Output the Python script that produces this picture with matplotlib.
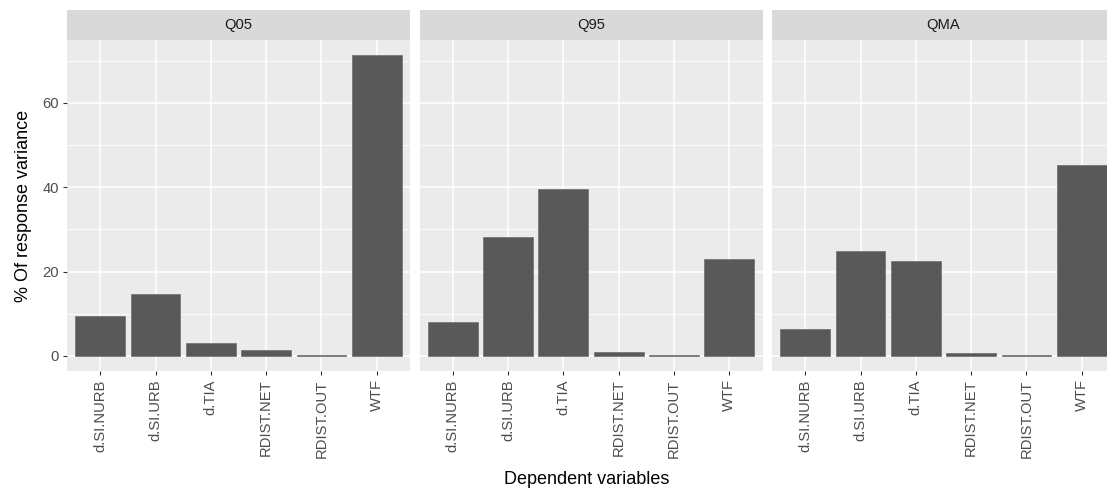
import matplotlib

matplotlib.use("Agg")
import matplotlib.pyplot as plt  # noqa: E402
import numpy as np  # noqa: E402

PANELS = ["Q05", "Q95", "QMA"]
VARIABLES = ["d.SI.NURB", "d.SI.URB", "d.TIA", "RDIST.NET", "RDIST.OUT", "WTF"]

Q05 = [9.5, 14.6, 3.1, 1.35, 0.15, 71.3]
Q95 = [8.0, 28.1, 39.6, 0.95, 0.2, 23.0]
QMA = [6.5, 24.9, 22.4, 0.7, 0.15, 45.2]
VALUES = [Q05, Q95, QMA]

Y_TICKS = [0, 20, 40, 60]

BG = "#EBEBEB"
STRIP = "#D9D9D9"
BAR = "#595959"
TXT = "#4D4D4D"

plt.rcParams["font.family"] = ["Liberation Sans", "DejaVu Sans"]

fig = plt.figure(figsize=(11.07, 4.91), dpi=100)
W, H = 1107, 491
left = 67
gap = 9.5
pw = 343  # last panel runs off the right edge, as in the source image
top_strip, strip_h = 10, 30
ax_top, ax_bot = 40, 371

ymax = max(max(v) for v in VALUES)
ylim = (-0.05 * ymax, ymax * 1.05)
x = np.arange(1, len(VARIABLES) + 1)

for i, (name, vals) in enumerate(zip(PANELS, VALUES)):
    x0 = left + i * (pw + gap)
    ax = fig.add_axes([x0 / W, 1 - ax_bot / H, pw / W, (ax_bot - ax_top) / H])
    ax.set_facecolor(BG)
    ax.bar(x, vals, width=0.9, color=BAR, edgecolor="#6E6E6E", linewidth=0.5, zorder=3)
    ax.set_xlim(0.4, len(VARIABLES) + 0.6)
    ax.set_ylim(*ylim)
    ax.set_xticks(x)
    ax.set_xticklabels(VARIABLES, rotation=90, fontsize=10.6, color=TXT)
    ax.set_yticks(Y_TICKS)
    ax.set_yticks([10, 30, 50, 70], minor=True)
    ax.grid(which="major", color="white", lw=1.1, zorder=0)
    ax.grid(which="minor", axis="y", color="white", lw=0.55, zorder=0)
    ax.tick_params(which="minor", length=0)
    ax.tick_params(which="major", length=3, color="#333333", width=0.8, pad=3)
    for s in ax.spines.values():
        s.set_visible(False)
    if i == 0:
        ax.set_yticklabels([str(t) for t in Y_TICKS], fontsize=10.6, color=TXT)
        ax.set_ylabel("% Of response variance", fontsize=13, color="black", labelpad=7)
    else:
        ax.tick_params(axis="y", which="major", left=False, labelleft=False)

    sax = fig.add_axes([x0 / W, 1 - (top_strip + strip_h) / H, pw / W, strip_h / H])
    sax.set_facecolor(STRIP)
    sax.set_xticks([])
    sax.set_yticks([])
    for s in sax.spines.values():
        s.set_visible(False)
    sax.text(0.5, 0.5, name, ha="center", va="center", fontsize=10.6, color="#1A1A1A",
             transform=sax.transAxes)

fig.text((left + 1107) / 2 / W, 1 - 480 / H, "Dependent variables", ha="center",
         va="center", fontsize=13)

fig.savefig("out.png", dpi=100)
